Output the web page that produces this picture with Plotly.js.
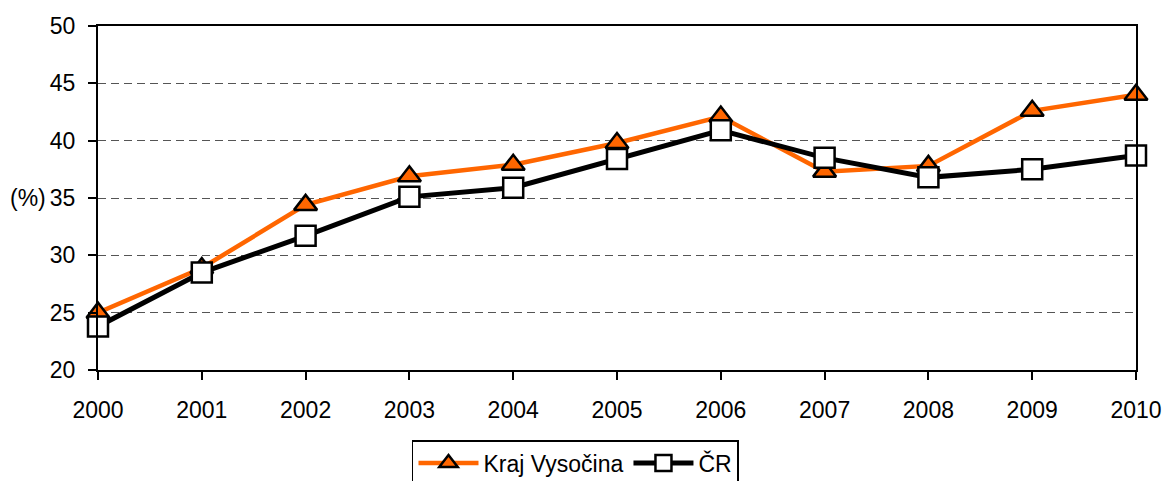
<!DOCTYPE html>
<html>
<head>
<meta charset="utf-8">
<script src="https://cdn.plot.ly/plotly-3.0.1.min.js"></script>
<style>html,body{margin:0;padding:0;background:#fff;}#chart{width:1165px;height:481px;}</style>
</head>
<body>
<div id="chart"></div>
<script>
const years = [2000, 2001, 2002, 2003, 2004, 2005, 2006, 2007, 2008, 2009, 2010];
const yearLabels = ['2000','2001','2002','2003','2004','2005','2006','2007','2008','2009','2010'];
const vysocina = [25.0, 28.9, 34.4, 36.9, 37.9, 39.8, 42.1, 37.3, 37.8, 42.6, 44.0];
const cr = [23.8, 28.5, 31.7, 35.1, 35.9, 38.4, 40.9, 38.5, 36.8, 37.5, 38.7];
const seriesNames = ['Kraj Vysočina', 'ČR'];
const yTicks = [20, 25, 30, 35, 40, 45, 50];

const FONT = '"Liberation Sans", Arial, sans-serif';
const FS = 23;

const traces = [
  {
    x: years, y: vysocina, name: seriesNames[0], type: 'scatter', mode: 'lines+markers',
    line: {color: '#FF6600', width: 4.5},
    marker: {symbol: 'triangle-up', size: 20, color: '#FF6600', line: {color: '#000', width: 2.5}},
    cliponaxis: false
  },
  {
    x: years, y: cr, name: seriesNames[1], type: 'scatter', mode: 'lines+markers',
    line: {color: '#000', width: 5},
    marker: {symbol: 'square', size: 20, color: '#fff', line: {color: '#000', width: 2.5}},
    cliponaxis: false
  }
];

const layout = {
  width: 1165, height: 481,
  margin: {l: 98, r: 29, t: 26, b: 111, pad: 0, autoexpand: false},
  paper_bgcolor: '#fff', plot_bgcolor: '#fff',
  font: {family: FONT, size: FS, color: '#000'},
  showlegend: true,
  legend: {
    orientation: 'h', x: 0.3025, xanchor: 'left', y: -0.2035, yanchor: 'top',
    bgcolor: '#fff', bordercolor: '#000', borderwidth: 1.5,
    font: {family: FONT, size: FS, color: '#000'},
    itemwidth: 60, traceorder: 'normal'
  },
  xaxis: {
    range: [2000, 2010], tickvals: years, ticktext: yearLabels,
    showline: true, linecolor: '#000', linewidth: 2, mirror: true,
    ticks: 'outside', ticklen: 8, tickwidth: 2, tickcolor: '#000',
    showgrid: false, zeroline: false, ticklabelstandoff: 10,
    tickfont: {family: FONT, size: FS, color: '#000'}
  },
  yaxis: {
    range: [20, 50], tickvals: yTicks,
    showline: true, linecolor: '#000', linewidth: 2, mirror: true,
    ticks: 'outside', ticklen: 8, tickwidth: 2, tickcolor: '#000',
    showgrid: true, gridcolor: '#555', gridwidth: 1, griddash: '8px,5px',
    zeroline: false, ticklabelstandoff: 8,
    tickfont: {family: FONT, size: FS, color: '#000'}
  },
  annotations: [{
    text: '(%)', xref: 'paper', yref: 'y', x: -0.048, y: 35, xanchor: 'right', yanchor: 'middle',
    showarrow: false, font: {family: FONT, size: FS, color: '#000'}
  }]
};

Plotly.newPlot('chart', traces, layout, {displayModeBar: false, staticPlot: true});
</script>
</body>
</html>
